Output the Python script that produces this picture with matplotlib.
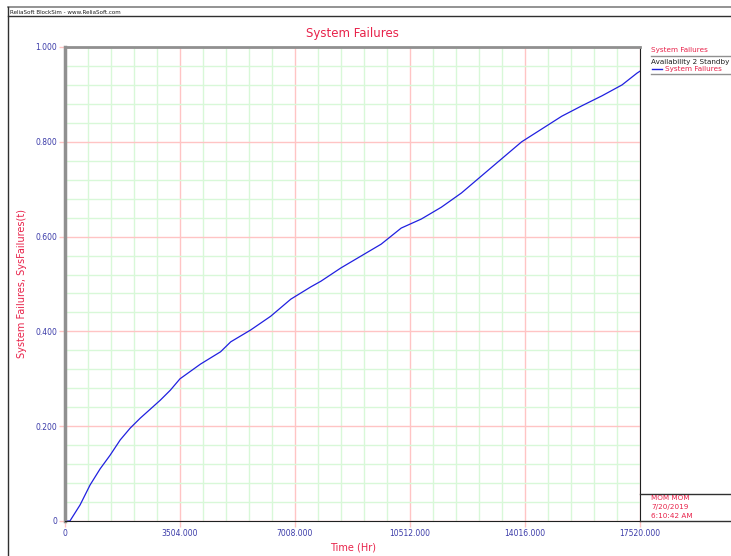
import matplotlib
matplotlib.use("Agg")
import matplotlib.pyplot as plt
from matplotlib.lines import Line2D

# time (hr) and cumulative system failures
time_hr = [0, 150, 460, 764, 1070, 1376, 1682, 1987, 2293, 2600, 2905, 3210,
           3504, 4128, 4740, 5050, 5657, 6268, 6880, 7491, 7800, 8409, 9020,
           9632, 10244, 10855, 11467, 12079, 12690, 13302, 13914, 14526,
           15137, 15749, 16361, 16972, 17431, 17520]
sys_failures = [0.0, 0.0, 0.034, 0.076, 0.110, 0.139, 0.171, 0.196, 0.217,
                0.236, 0.255, 0.276, 0.300, 0.331, 0.357, 0.378, 0.403,
                0.432, 0.468, 0.494, 0.506, 0.534, 0.559, 0.584, 0.618,
                0.637, 0.662, 0.692, 0.728, 0.764, 0.800, 0.827, 0.854,
                0.876, 0.897, 0.920, 0.945, 0.949]

x_major = [0, 3504, 7008, 10512, 14016, 17520]
x_labels = ["0", "3504.000", "7008.000", "10512.000", "14016.000", "17520.000"]
y_major = [0, 0.2, 0.4, 0.6, 0.8, 1.0]
y_labels = ["0", "0.200", "0.400", "0.600", "0.800", "1.000"]

W, H = 731, 556
crimson = "#e8224a"
blue_txt = "#3a3aa8"

fig = plt.figure(figsize=(W / 100, H / 100), dpi=100)
x0, x1, y0, y1 = 65, 640, 47, 521
ax = fig.add_axes([x0 / W, 1 - y1 / H, (x1 - x0) / W, (y1 - y0) / H])

ax.plot(time_hr, sys_failures, color="#2020e0", lw=0.9)
ax.set_xlim(0, 17520)
ax.set_ylim(0, 1.0)

ax.set_xticks(x_major)
ax.set_xticklabels(x_labels)
ax.set_yticks(y_major)
ax.set_yticklabels(y_labels)
ax.set_xticks([i * 700.8 for i in range(26) if i % 5], minor=True)
ax.set_yticks([i * 0.04 for i in range(26) if i % 5], minor=True)

ax.grid(which="minor", color="#d8f8d8", lw=1)
ax.grid(which="major", color="#ffc4c4", lw=1)
ax.set_axisbelow(True)

ax.tick_params(which="major", length=4, width=1, colors="#ffc4c4",
               labelcolor=blue_txt, labelsize=5.5, pad=1.5)
ax.tick_params(which="minor", length=0)

for side in ("left", "top"):
    ax.spines[side].set_color("#909090")
ax.spines["left"].set_linewidth(2.5)
ax.spines["top"].set_linewidth(2)
ax.spines["right"].set_color("#202020")
ax.spines["bottom"].set_color("#202020")

ax.set_title("System Failures", color=crimson, fontsize=8.5, pad=7)
ax.set_xlabel("Time (Hr)", color=crimson, fontsize=7)
ax.set_ylabel("System Failures, SysFailures(t)", color=crimson, fontsize=7)
ax.xaxis.set_label_coords((353 - x0) / (x1 - x0), -(543 - y1) / (y1 - y0))
ax.yaxis.set_label_coords(-(x0 - 27) / (x1 - x0), 0.5)

# header / frame
def fline(xa, ya, xb, yb, color="#303030", lw=1):
    fig.add_artist(Line2D([xa / W, xb / W], [1 - ya / H, 1 - yb / H],
                          color=color, lw=lw))

fline(8, 7, W, 7, color="#808080", lw=1.2)
fline(8, 15.5, W, 15.5, lw=1)
fline(8, 7, 8, H)
fig.text(10 / W, 1 - 12 / H, "ReliaSoft BlockSim - www.ReliaSoft.com",
         fontsize=4.1, va="center", ha="left", color="#202020")

# legend on the right
leg_fs = 5.2
fig.text(651 / W, 1 - 50 / H, "System Failures", fontsize=leg_fs,
         color=crimson, va="center")
fline(651, 55.5, W, 55.5, color="#909090")
fig.text(651 / W, 1 - 62 / H, "Availability 2 Standby", fontsize=leg_fs,
         color="#202020", va="center")
fline(652, 69, 662, 69, color="#2020e0")
fig.text(665 / W, 1 - 69 / H, "System Failures", fontsize=leg_fs,
         color=crimson, va="center")
fline(651, 73.5, W, 73.5, color="#909090")

# info box bottom right
fline(640, 494, W, 494)
fline(640, 521, W, 521)
for i, txt in enumerate(["MOM MOM", "7/20/2019", "6:10:42 AM"]):
    fig.text(651 / W, 1 - (498 + i * 9) / H, txt, fontsize=leg_fs,
             color=crimson, va="center")

fig.savefig("out.png", dpi=100)
